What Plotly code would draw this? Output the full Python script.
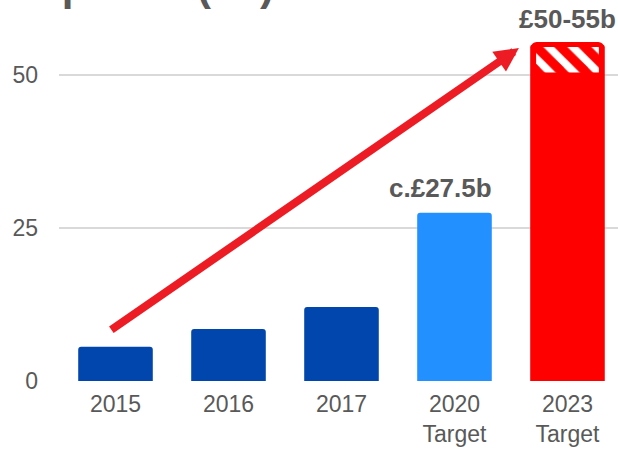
import plotly.graph_objects as go

# Deposits by year, £ billions
years = ["2015", "2016", "2017", "2020<br>Target", "2023<br>Target"]
deposits = [5.6, 8.5, 12.1, 27.5, 55]
bar_colors = ["#0046AD", "#0046AD", "#0046AD", "#2290FF", "#FF0000"]

# 2023 target range (£b)
range_low = 50
range_high = 55

# growth arrow endpoints (x index, £b)
arrow_start = (-0.05, 8.2)
arrow_end = (3.57, 54.4)

label_2020 = "c.£27.5b"
label_2023 = "£50-55b"

TEXT = "#595959"
x_pos = list(range(len(years)))

fig = go.Figure()
fig.add_trace(go.Bar(
    x=x_pos, y=deposits, width=0.66,
    marker=dict(color=bar_colors, line=dict(width=0)),
    hoverinfo="skip",
))
# hatched top of the 2023 target range
fig.add_trace(go.Bar(
    x=[4], y=[range_high - range_low], base=[range_low], width=0.6,
    marker=dict(color="#FF0000",
                line=dict(color="#FF0000", width=5),
                pattern=dict(shape="\\", fgcolor="white", bgcolor="#FF0000",
                             size=17, solidity=0.45, fillmode="replace")),
    hoverinfo="skip",
))

fig.add_annotation(x=3, y=deposits[3], text=f"<b>{label_2020}</b>",
                   showarrow=False, yanchor="bottom", xshift=-14, yshift=8,
                   font=dict(size=26, color=TEXT, family="Arial"))
fig.add_annotation(x=4, y=deposits[4], text=f"<b>{label_2023}</b>",
                   showarrow=False, yanchor="bottom", yshift=8,
                   font=dict(size=26, color=TEXT, family="Arial"))

fig.add_annotation(x=arrow_end[0], y=arrow_end[1], ax=arrow_start[0], ay=arrow_start[1],
                   xref="x", yref="y", axref="x", ayref="y", text="",
                   showarrow=True, arrowhead=2, arrowsize=0.6, arrowwidth=8,
                   arrowcolor="#ED1C24")

fig.add_annotation(x=-0.0948, y=1.078, xref="paper", yref="paper",
                   xanchor="left", yanchor="bottom", showarrow=False,
                   text="<b>Deposits (£b)</b>",
                   font=dict(size=42, color=TEXT, family="Arial"))

fig.update_layout(
    width=618, height=450,
    margin=dict(l=59, r=0, t=38, b=69, autoexpand=False),
    paper_bgcolor="white", plot_bgcolor="white",
    barmode="overlay", barcornerradius=3,
    showlegend=False,
    font=dict(family="Arial", color=TEXT),
    xaxis=dict(range=[-0.5, 4.447], tickvals=x_pos, ticktext=years,
               showgrid=False, zeroline=False, showline=False, automargin=False,
               tickfont=dict(size=23, color=TEXT), ticklabelstandoff=7),
    yaxis=dict(range=[0, 56.05], tickvals=[0, 25, 50],
               showgrid=True, gridcolor="#D9D9D9", gridwidth=2,
               zeroline=False, showline=False, automargin=False,
               tickfont=dict(size=23, color=TEXT), ticklabelstandoff=20),
)

fig.write_html("out.html")
